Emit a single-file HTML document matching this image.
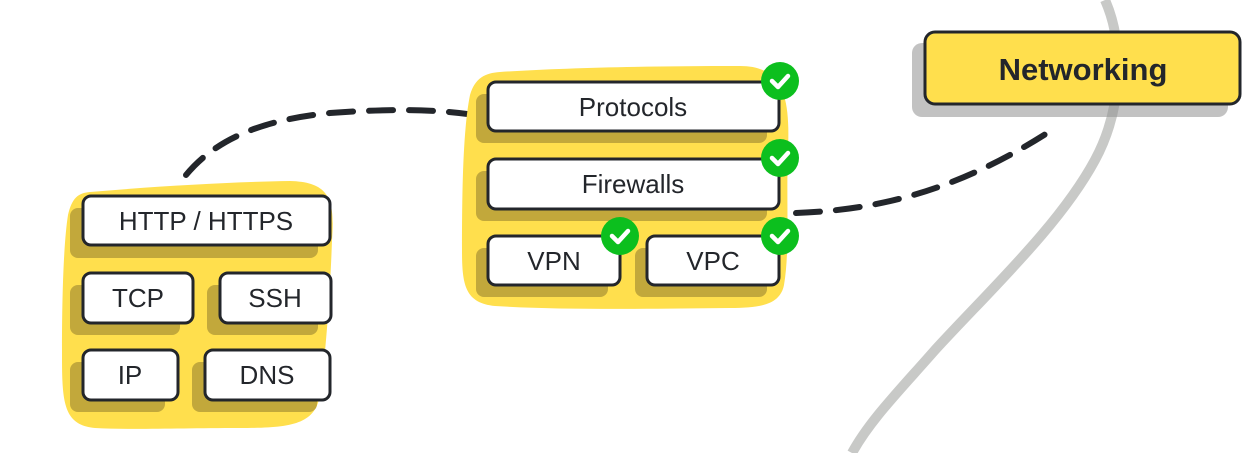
<!DOCTYPE html>
<html><head><style>
html,body{margin:0;padding:0;background:#fff;}
svg{display:block;}
text{font-family:"Liberation Sans",sans-serif;fill:#23262b;}
</style></head><body>
<svg width="1257" height="453" viewBox="0 0 1257 453" xmlns="http://www.w3.org/2000/svg">
<path d="M1105,0 C1125,45 1122,110 1095,160 C1060,225 990,290 935,350 C900,390 870,420 852,453" fill="none" stroke="#c8c9c7" stroke-width="10"/>
<path d="M186,175 C215,140 260,120 330,113 C400,108 440,110 475,115" fill="none" stroke="#23262b" stroke-width="6" stroke-linecap="round" stroke-dasharray="24,16"/>
<path d="M796,213 C880,210 960,190 1055,128" fill="none" stroke="#23262b" stroke-width="6" stroke-linecap="round" stroke-dasharray="24,16"/>
<path d="M90,192 C160,186 230,182 290,181 C330,182 335,200 332,240 C330,300 325,360 320,395 C315,425 290,428 240,428 C180,428 130,430 95,428 C62,425 62,400 62,350 C62,290 64,240 68,215 C72,198 78,193 90,192 Z" fill="#ffdf4d"/>
<path d="M500,72 C560,68 640,66 740,66 C785,66 790,100 788,150 C786,200 790,250 784,285 C780,305 760,308 730,308 C640,309 560,310 495,306 C465,303 462,285 462,250 C462,190 463,130 470,95 C475,78 485,73 500,72 Z" fill="#ffdf4d"/>
<g fill="#c2a83b">
<rect x="70" y="208" width="248" height="50" rx="8"/>
<rect x="70" y="285" width="110" height="50" rx="8"/>
<rect x="207" y="285" width="111" height="50" rx="8"/>
<rect x="70" y="362" width="95" height="50" rx="8"/>
<rect x="192" y="362" width="125" height="50" rx="8"/>
<rect x="476" y="94" width="291" height="49" rx="8"/>
<rect x="476" y="171" width="291" height="50" rx="8"/>
<rect x="476" y="248" width="132" height="49" rx="8"/>
<rect x="635" y="248" width="132" height="49" rx="8"/>
</g>
<g fill="#fff" stroke="#23262b" stroke-width="3">
<rect x="83" y="196" width="247" height="49" rx="8"/>
<rect x="83" y="273" width="110" height="50" rx="8"/>
<rect x="220" y="273" width="111" height="50" rx="8"/>
<rect x="83" y="350" width="95" height="50" rx="8"/>
<rect x="205" y="350" width="125" height="50" rx="8"/>
<rect x="488" y="82" width="291" height="49" rx="8"/>
<rect x="488" y="159" width="291" height="50" rx="8"/>
<rect x="488" y="236" width="132" height="49" rx="8"/>
<rect x="647" y="236" width="132" height="49" rx="8"/>
</g>
<g font-size="26" text-anchor="middle">
<text x="206" y="230">HTTP / HTTPS</text>
<text x="138" y="307">TCP</text>
<text x="275" y="307">SSH</text>
<text x="130" y="384">IP</text>
<text x="267" y="384">DNS</text>
<text x="633" y="116">Protocols</text>
<text x="633" y="193">Firewalls</text>
<text x="554" y="270">VPN</text>
<text x="713" y="270">VPC</text>
</g>
<g>
<circle cx="780" cy="81" r="19" fill="#0cbf1e"/>
<circle cx="780" cy="158" r="19" fill="#0cbf1e"/>
<circle cx="620" cy="236" r="19" fill="#0cbf1e"/>
<circle cx="780" cy="236" r="19" fill="#0cbf1e"/>
</g>
<g fill="none" stroke="#fff" stroke-width="4.5" stroke-linecap="round" stroke-linejoin="round">
<path d="M772,81 l6,6 l10,-11"/>
<path d="M772,158 l6,6 l10,-11"/>
<path d="M612,236 l6,6 l10,-11"/>
<path d="M772,236 l6,6 l10,-11"/>
</g>
<rect x="912" y="43" width="316" height="74" rx="10" fill="#8f8f8f" fill-opacity="0.55"/>
<rect x="925" y="32" width="315" height="72" rx="10" fill="#ffdf4d" stroke="#23262b" stroke-width="3"/>
<text x="1083" y="80" font-size="31" font-weight="bold" text-anchor="middle">Networking</text>
</svg>
</body></html>
